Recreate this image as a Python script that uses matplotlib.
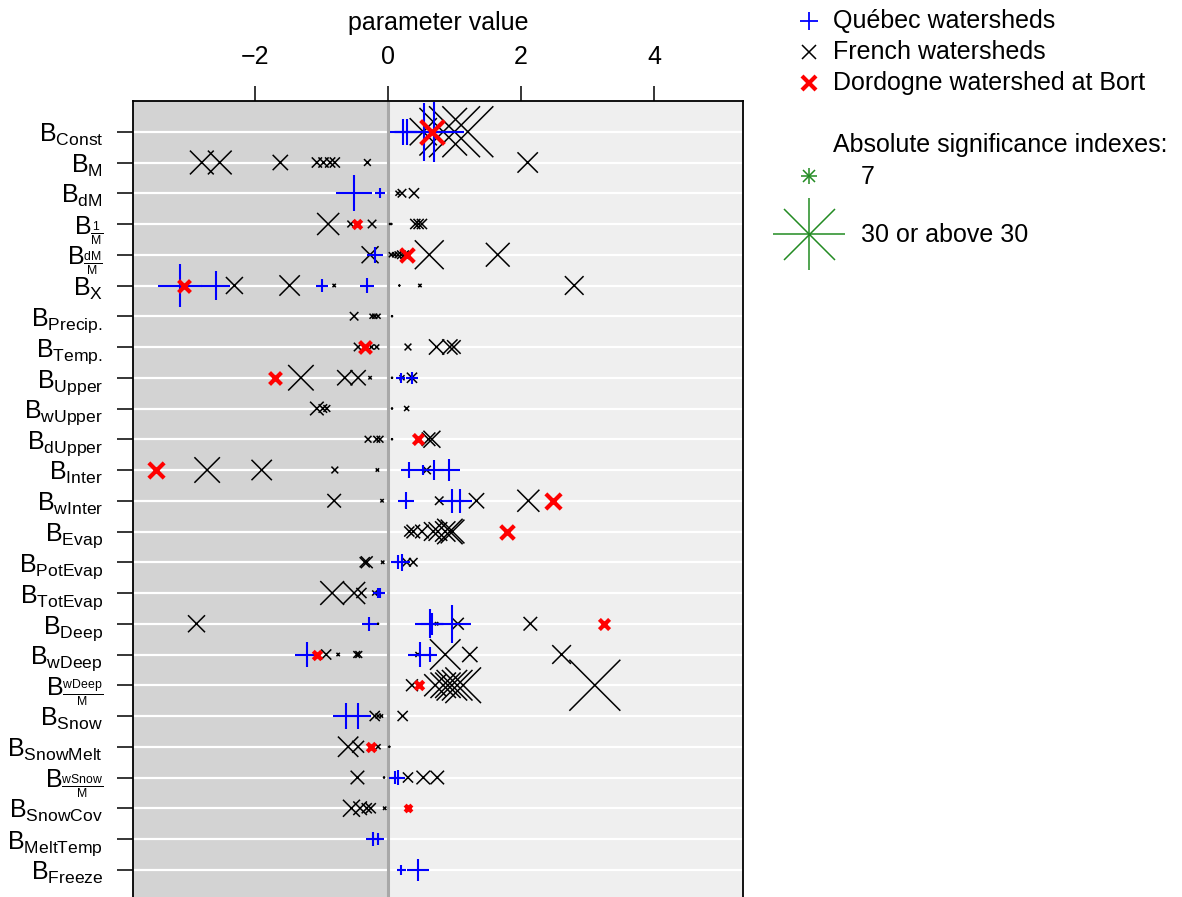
"""Dot plot of calibrated parameter values per watershed, marker size = significance."""
import matplotlib
matplotlib.use("Agg")
import matplotlib.pyplot as plt
import numpy as np

plt.rcParams["font.family"] = ["Liberation Sans", "DejaVu Sans"]
plt.rcParams["mathtext.fontset"] = "custom"
plt.rcParams["mathtext.rm"] = "Liberation Sans"
plt.rcParams["mathtext.it"] = "Liberation Sans:italic"
plt.rcParams["mathtext.bf"] = "Liberation Sans:bold"

PARAMS = ["Const", "M", "dM", "1/M", "dM/M", "X", "Precip.", "Temp.", "Upper",
          "wUpper", "dUpper", "Inter", "wInter", "Evap", "PotEvap", "TotEvap",
          "Deep", "wDeep", "wDeep/M", "Snow", "SnowMelt", "wSnow/M", "SnowCov",
          "MeltTemp", "Freeze"]

# Québec watersheds: values and absolute significance indexes, one list per parameter
QC_VAL = [[0.23, 0.29, 0.54, 0.69], [], [-0.51, -0.12], [], [-0.19],
          [-3.13, -2.59, -0.99, -0.32], [], [], [0.19, 0.36], [], [],
          [0.32, 0.53, 0.69, 0.92], [0.27, 0.96, 1.08], [], [0.15, 0.21],
          [-0.15, -0.12], [-0.28, 0.63, 0.66, 0.96], [-1.22, 0.48, 0.63], [],
          [-0.63, -0.45], [], [0.11, 0.15], [], [-0.22, -0.15], [0.20, 0.45]]
QC_SIG = [[11, 11, 24, 25], [], [15, 4], [], [7],
          [18, 12, 5, 6], [], [], [4, 5], [], [],
          [7, 4, 8, 9], [7, 10, 10], [], [6, 7],
          [4, 4], [6, 12, 9, 16], [10, 10, 6], [],
          [11, 11], [], [5, 6], [], [6, 5], [4, 9]]

# French watersheds
FR_VAL = [[0.53, 0.83, 1.0, 1.2],
          [-2.80, -2.53, -1.62, -1.07, -0.97, -0.87, -0.80, -0.31, 2.10],
          [0.15, 0.21, 0.39],
          [-0.90, -0.56, -0.24, 0.03, 0.05, 0.41, 0.46, 0.51],
          [-0.27, 0.05, 0.10, 0.15, 0.20, 0.25, 0.62, 1.65],
          [-2.31, -1.48, -0.81, 0.17, 0.48, 2.80],
          [-0.51, -0.24, -0.20, -0.15, 0.06],
          [-0.45, -0.25, -0.17, 0.30, 0.73, 0.93, 0.99],
          [-1.31, -0.65, -0.45, -0.27, 0.06, 0.21, 0.36],
          [-1.07, -0.98, -0.92, 0.06, 0.28],
          [-0.30, -0.17, -0.12, 0.06, 0.61, 0.66],
          [-2.72, -1.90, -0.80, -0.16, 0.58],
          [-0.81, -0.09, 0.77, 1.33, 2.11],
          [0.32, 0.38, 0.51, 0.68, 0.75, 0.86, 0.93, 0.97],
          [-0.35, -0.32, -0.08, 0.28, 0.38],
          [-0.84, -0.51, -0.40, -0.20],
          [-2.88, -0.15, 0.73, 1.05, 2.14],
          [-0.93, -0.75, -0.47, -0.44, 0.45, 0.86, 1.23, 2.61],
          [0.36, 0.71, 0.83, 0.90, 0.96, 1.04, 1.13, 3.11],
          [-0.20, -0.15, -0.10, 0.22],
          [-0.60, -0.45, -0.15, 0.02],
          [-0.46, -0.06, 0.30, 0.53, 0.74],
          [-0.55, -0.42, -0.32, -0.26, -0.05],
          [],
          []]
FR_SIG = [[16, 28, 30, 30],
          [14, 14, 9, 6, 6, 6, 6, 4, 12],
          [3, 5, 6],
          [13, 4, 5, 1, 1, 6, 6, 6],
          [10, 3, 3, 4, 5, 5, 17, 14],
          [10, 12, 2, 1, 2, 11],
          [5, 3, 3, 3, 1],
          [5, 3, 3, 4, 9, 9, 8],
          [15, 9, 9, 2, 1, 3, 6],
          [8, 5, 4, 1, 3],
          [4, 4, 4, 1, 8, 10],
          [15, 12, 4, 2, 5],
          [8, 2, 5, 9, 13],
          [6, 8, 8, 11, 11, 12, 15, 14],
          [6, 7, 2, 5, 5],
          [14, 13, 6, 3],
          [10, 1, 2, 7, 8],
          [6, 2, 4, 4, 3, 18, 9, 11],
          [7, 13, 15, 15, 18, 18, 21, 30],
          [6, 3, 2, 6],
          [12, 7, 3, 1],
          [8, 1, 6, 8, 8],
          [10, 8, 6, 6, 2],
          [],
          []]

# Dordogne watershed at Bort
DO_VAL = [[0.66], [], [], [-0.47], [0.28], [-3.07], [], [-0.35], [-1.70], [],
          [0.45], [-3.49], [2.48], [1.79], [], [], [3.25], [-1.07], [0.47], [],
          [-0.26], [], [0.30], [], []]
DO_SIG = [[14], [], [], [5], [8], [7], [], [7], [7], [],
          [6], [9], [9], [8], [], [], [6], [5], [5], [],
          [5], [], [4], [], []]

SIG_CAP = 30
K = 1.224  # points of x-marker width per significance unit


def label(p):
    if "/" in p:
        num, den = p.split("/")
        return r"$\mathrm{B}_{\frac{\mathrm{%s}}{\mathrm{%s}}}$" % (num, den)
    return r"$\mathrm{B}_{\mathrm{%s}}$" % p


def sizes(sig, kind):
    ms = K * np.minimum(np.asarray(sig, dtype=float), SIG_CAP)
    if kind == "+":
        ms = ms * np.sqrt(2)
    return ms ** 2


W, H = 1182, 897
fig = plt.figure(figsize=(W / 100, H / 100), dpi=100)
ax = fig.add_axes([133 / W, 1 - 900.5 / H, 610 / W, 799.5 / H])
x0, x1 = -3.835, 5.338
ax.set_xlim(x0, x1)
ax.set_ylim(len(PARAMS), -1)
ax.set_facecolor("#efefef")
ax.axvspan(x0, 0, color="#d3d3d3", zorder=0, lw=0)
for i in range(len(PARAMS)):
    ax.axhline(i, color="white", lw=1.6, zorder=1)
ax.axvline(0, color="#a8a8a8", lw=2.2, zorder=1.5)

for i in range(len(PARAMS)):
    if FR_VAL[i]:
        ax.scatter(FR_VAL[i], [i] * len(FR_VAL[i]), s=sizes(FR_SIG[i], "x"),
                   marker="x", c="black", linewidths=1.1, zorder=3)
    if QC_VAL[i]:
        ax.scatter(QC_VAL[i], [i] * len(QC_VAL[i]), s=sizes(QC_SIG[i], "+"),
                   marker="+", c="blue", linewidths=1.5, zorder=4)
    if DO_VAL[i]:
        ax.scatter(DO_VAL[i], [i] * len(DO_VAL[i]), s=sizes(DO_SIG[i], "x"),
                   marker="x", c="red", linewidths=3.0, zorder=5)

ax.xaxis.tick_top()
ax.xaxis.set_label_position("top")
ax.set_xticks([-2, 0, 2, 4])
ax.set_xlabel("parameter value", fontsize=18, labelpad=11)
ax.tick_params(axis="x", direction="out", length=11, width=1.1, pad=12,
               labelsize=18)
ax.set_yticks(range(len(PARAMS)))
ax.set_yticklabels([label(p) for p in PARAMS])
ax.tick_params(axis="y", direction="out", length=11.5, width=1.1, pad=10,
               labelsize=18)
ax.spines["bottom"].set_visible(False)
for s in ("left", "top", "right"):
    ax.spines[s].set_linewidth(1.3)

# key, drawn in pixel coordinates to the right of the panel
lg = fig.add_axes([0, 0, 1, 1])
lg.set_xlim(0, W)
lg.set_ylim(H, 0)
lg.axis("off")
lg.plot(809, 21, marker="+", ms=13, mew=1.3, color="blue")
lg.plot(809, 52, marker="x", ms=10.5, mew=1.1, color="black")
lg.plot(809, 83, marker="x", ms=10.5, mew=3.0, color="red")
for txt, yb in [("Québec watersheds", 28), ("French watersheds", 59),
                ("Dordogne watershed at Bort", 90),
                ("Absolute significance indexes:", 152)]:
    lg.text(833, yb, txt, fontsize=18, va="baseline", ha="left")
for sig, yc, txt in [(7, 176, "7"), (30, 234, "30 or above 30")]:
    ms = K * sig
    lg.plot(809, yc, marker="x", ms=ms, mew=1.1, color="forestgreen")
    lg.plot(809, yc, marker="+", ms=ms * np.sqrt(2), mew=1.1, color="forestgreen")
    lg.text(861, yc + 8, txt, fontsize=18, va="baseline", ha="left")

fig.savefig("out.png", dpi=100)
